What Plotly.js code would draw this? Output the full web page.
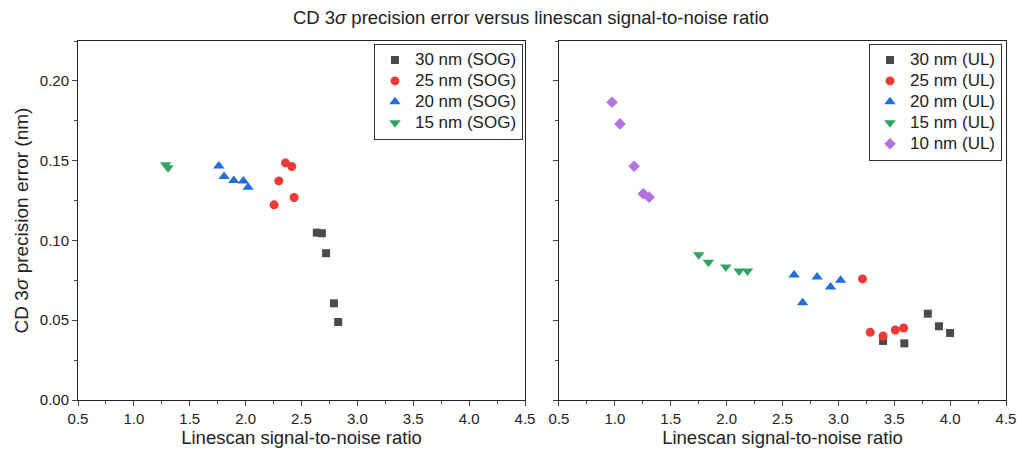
<!DOCTYPE html>
<html><head><meta charset="utf-8">
<script src="https://cdn.plot.ly/plotly-3.0.1.min.js"></script>
<style>body{margin:0;background:#fff}#c{width:1017px;height:449px}</style>
</head><body><div id="c"></div>
<script>
// SOG panel
const sog30x = [2.637, 2.682, 2.72, 2.79, 2.828];
const sog30y = [0.1049, 0.1045, 0.092, 0.0606, 0.0489];
const sog25x = [2.357, 2.413, 2.297, 2.434, 2.255];
const sog25y = [0.1486, 0.1463, 0.1373, 0.1269, 0.1223];
const sog20x = [1.76, 1.807, 1.894, 1.98, 2.022];
const sog20y = [0.1467, 0.140, 0.1375, 0.1373, 0.1333];
const sog15x = [1.285, 1.306];
const sog15y = [0.1475, 0.1455];
// UL panel
const ul30x = [3.80, 3.90, 4.00, 3.40, 3.59];
const ul30y = [0.0541, 0.0462, 0.042, 0.037, 0.0355];
const ul25x = [3.216, 3.285, 3.40, 3.51, 3.584];
const ul25y = [0.0759, 0.0424, 0.0401, 0.0439, 0.0451];
const ul20x = [2.604, 2.68, 2.81, 2.93, 3.02];
const ul20y = [0.0784, 0.061, 0.0771, 0.0708, 0.075];
const ul15x = [1.751, 1.837, 1.993, 2.112, 2.187];
const ul15y = [0.091, 0.0864, 0.0833, 0.0808, 0.0808];
const ul10x = [0.975, 1.046, 1.172, 1.255, 1.306];
const ul10y = [0.1866, 0.173, 0.1465, 0.1292, 0.1271];

const C = {k:'#4a4a4a', r:'#ee3a36', b:'#1f6fdd', g:'#2fa45f', p:'#b273de'};
function lbl(s){ return '<span style="font-size:17px">' + s + '</span>'; }
function tr(x, y, name, col, sym, xa, ya, lg, size){
  return {x:x, y:y, name:lbl(name), type:'scatter', mode:'markers', xaxis:xa, yaxis:ya, legend:lg,
    marker:{color:col, symbol:sym, size:size||9, line:{width:0}}};
}
const data = [
  tr(sog30x, sog30y, '30 nm (SOG)', C.k, 'square', 'x', 'y', 'legend', 8),
  tr(sog25x, sog25y, '25 nm (SOG)', C.r, 'circle', 'x', 'y', 'legend', 9),
  tr(sog20x, sog20y, '20 nm (SOG)', C.b, 'triangle-up', 'x', 'y', 'legend', 10),
  tr(sog15x, sog15y, '15 nm (SOG)', C.g, 'triangle-down', 'x', 'y', 'legend', 10),
  tr(ul30x, ul30y, '30 nm (UL)', C.k, 'square', 'x2', 'y2', 'legend2', 8),
  tr(ul25x, ul25y, '25 nm (UL)', C.r, 'circle', 'x2', 'y2', 'legend2', 9),
  tr(ul20x, ul20y, '20 nm (UL)', C.b, 'triangle-up', 'x2', 'y2', 'legend2', 10),
  tr(ul15x, ul15y, '15 nm (UL)', C.g, 'triangle-down', 'x2', 'y2', 'legend2', 10),
  tr(ul10x, ul10y, '10 nm (UL)', C.p, 'diamond', 'x2', 'y2', 'legend2', 9)
];
const F = 'Liberation Sans, Arial, sans-serif';
const xbase = {range:[0.5,4.5], dtick:0.5, tick0:0.5, tickformat:'.1f', ticks:'outside', ticklen:5,
  showline:true, mirror:true, linecolor:'#222', linewidth:1, showgrid:false, zeroline:false,
  tickfont:{size:15, color:'#222'}, minor:{dtick:0.25, tick0:0.5, ticks:'outside', ticklen:3, showgrid:false},
  title:{text:'Linescan signal-to-noise ratio', font:{size:18.5, color:'#222'}, standoff:4}};
const ybase = {range:[0,0.225], dtick:0.05, tick0:0, tickformat:'.2f', ticks:'outside', ticklen:5,
  showline:true, mirror:true, linecolor:'#222', linewidth:1, showgrid:false, zeroline:false,
  tickfont:{size:15, color:'#222'}, minor:{dtick:0.025, tick0:0, ticks:'outside', ticklen:3, showgrid:false}};
const layout = {
  width:1017, height:449, paper_bgcolor:'#fff', plot_bgcolor:'#fff',
  margin:{l:78, r:11, t:41, b:49},
  font:{family:F, color:'#222'},
  title:{text:'CD 3<i>σ</i> precision error versus linescan signal-to-noise ratio', font:{size:18.5, color:'#222'}, x:0.488, xanchor:'center', y:0.96, yanchor:'middle', xref:'paper'},
  xaxis:Object.assign({}, xbase, {domain:[0,0.4817], anchor:'y'}),
  xaxis2:Object.assign({}, xbase, {domain:[0.5183,1], anchor:'y2'}),
  yaxis:Object.assign({}, ybase, {anchor:'x', title:{text:'CD 3<i>σ</i> precision error (nm)', font:{size:19, color:'#222'}, standoff:6}}),
  yaxis2:Object.assign({}, ybase, {anchor:'x2', showticklabels:false}),
  legend:{x:0.4795, xanchor:'right', y:0.993, yanchor:'top', bordercolor:'#333', borderwidth:1, bgcolor:'#fff', font:{size:13.8, color:'#222'}, tracegroupgap:0},
  legend2:{x:0.9957, xanchor:'right', y:0.993, yanchor:'top', bordercolor:'#333', borderwidth:1, bgcolor:'#fff', font:{size:13.8, color:'#222'}, tracegroupgap:0},
  showlegend:true
};
Plotly.newPlot('c', data, layout, {displayModeBar:false, staticPlot:true});
</script></body></html>
